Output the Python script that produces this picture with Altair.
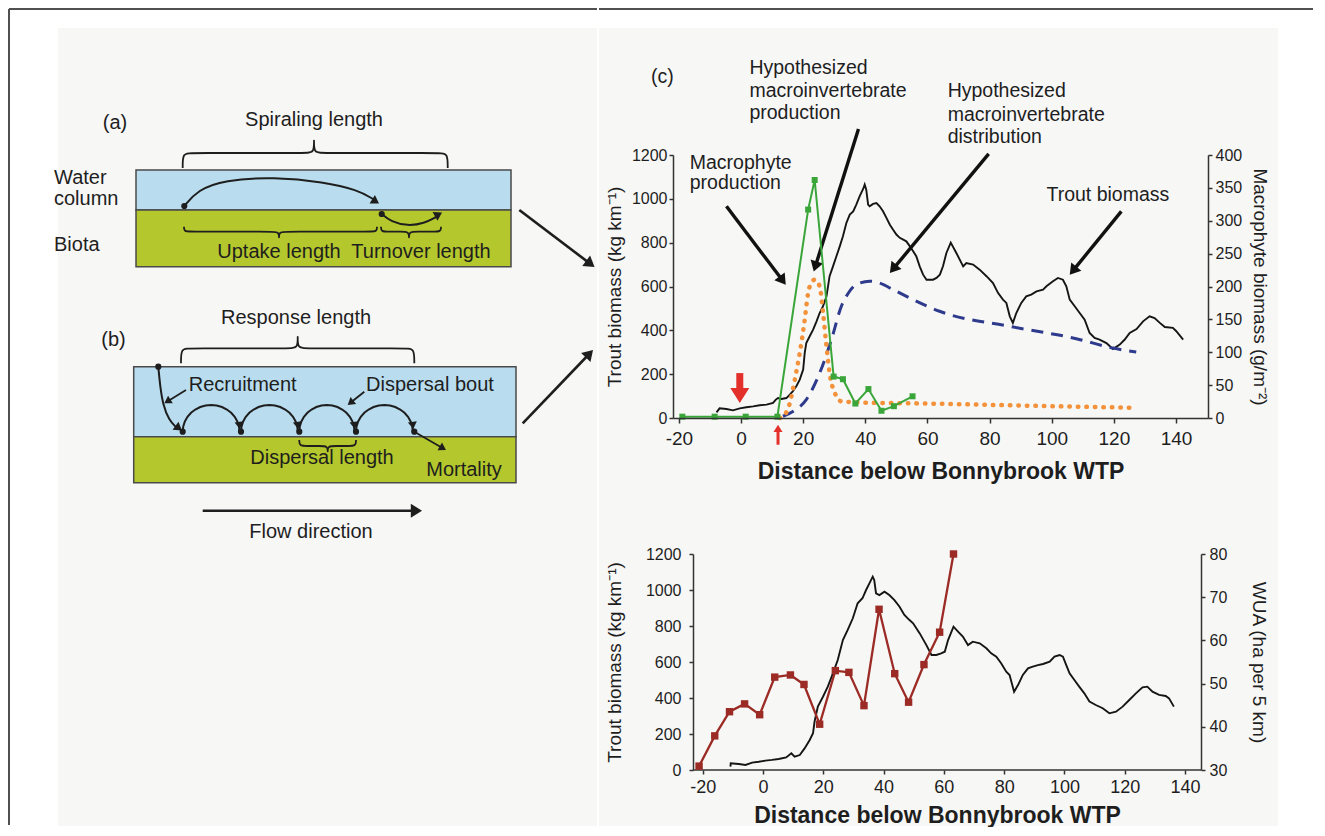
import math
import altair as alt
import pandas as pd

FONT = "Liberation Sans"
INK = "#1e1e1e"
PANEL_BG = "#f7f7f6"

# ---------------- panel (c), upper graph: values ----------------
trout_top_x = [-7.9, -6.9, -4.7, -2.6, -0.4, 1.7, 3.9, 6.0, 8.2, 10.3,
               11.2, 11.9, 13.0, 14.6, 15.7, 16.7, 17.8, 18.9, 20.0, 20.5,
               21.0, 22.1, 23.2, 24.3, 25.3, 26.4, 27.5, 28.0, 28.5, 29.6,
               30.7, 31.8, 32.8, 33.9, 35.0, 36.1, 37.1, 38.2, 39.3, 39.8,
               40.3, 40.9, 41.4, 42.5, 43.6, 44.6, 45.7, 46.8, 47.9, 48.9,
               50.0, 51.1, 53.2, 54.3, 55.4, 56.4, 57.5, 58.6, 59.7, 60.7,
               61.8, 62.9, 64.0, 65.0, 66.1, 67.5, 69.3, 71.5, 72.5, 74.7,
               76.8, 79.0, 81.1, 82.7, 84.3, 85.4, 86.5, 87.5, 88.6, 90.2,
               91.8, 93.4, 95.1, 97.2, 98.3, 100.4, 102.0, 103.6, 104.7, 105.8,
               107.4, 109.0, 110.6, 112.2, 113.8, 115.4, 117.6, 119.7, 121.9, 123.5,
               125.1, 127.3, 129.4, 131.5, 133.1, 134.8, 136.4, 139.0, 140.1, 142.3]
trout_top_y = [26, 44, 41, 35, 44, 49, 53, 58, 61, 69,
               84, 91, 87, 91, 107, 122, 145, 175, 221, 297,
               342, 373, 403, 441, 479, 510, 555, 601, 647, 692,
               738, 784, 829, 890, 928, 943, 974, 1012, 1045, 1065,
               1042, 974, 966, 977, 981, 966, 943, 913, 882, 860,
               837, 822, 806, 784, 761, 738, 692, 654, 631, 631,
               631, 639, 654, 692, 753, 800, 753, 692, 707, 700,
               677, 647, 616, 571, 540, 525, 464, 434, 479, 525,
               555, 563, 578, 586, 601, 624, 639, 631, 601, 540,
               510, 479, 449, 388, 365, 358, 342, 315, 335, 358,
               388, 406, 441, 464, 456, 434, 415, 411, 396, 358]

macro_x = [-18.9, -8.5, 1.5, 11.7, 21.6, 23.7, 29.8, 32.8, 36.8, 41.0, 45.2, 49.2, 55.2]
macro_y = [2, 2, 2, 2, 317, 362, 63, 59, 22, 44, 11, 18, 33]

inv_prod_x = [12.5, 14.1, 15.7, 17.3, 18.9, 20.5, 21.6, 22.6, 23.7, 25.3, 26.4,
              27.5, 28.5, 30.2, 32.3, 36.1, 40, 50, 60, 80, 100, 126]
inv_prod_y = [0, 15, 68, 175, 297, 449, 571, 616, 631, 601, 479,
              327, 205, 114, 76, 72, 70, 68, 66, 60, 54, 47]

inv_dist_x = [13.5, 16.7, 21.0, 25.3, 29.1, 32.3, 33.9, 37.1, 41.4, 44.6, 48.9,
              55.4, 63.9, 86.5, 107.9, 119.7, 127.2]
inv_dist_y = [8, 30, 84, 205, 358, 510, 555, 609, 624, 616, 586,
              540, 487, 418, 362, 319, 301]

# ---------------- panel (c), lower graph ----------------
trout_bot_x = [-10.8, -10.7, -8.0, -5.8, -3.6, -1.4, 0.8, 3.0, 5.2, 7.7,
               9.4, 10.5, 12.2, 13.8, 15.5, 16.6, 17.1, 18.2, 19.9, 21.5,
               23.2, 24.8, 26.5, 28.1, 29.8, 31.4, 33.0, 34.2, 35.3, 36.4,
               36.9, 37.5, 38.6, 40.3, 41.9, 43.6, 45.3, 46.9, 48.6, 49.8,
               52.0, 54.2, 55.9, 57.5, 59.1, 60.3, 61.4, 63.2, 64.7, 66.3,
               68.0, 69.6, 71.9, 74.1, 75.7, 77.4, 79.0, 80.7, 81.8, 83.3,
               84.6, 86.2, 87.9, 89.5, 91.2, 92.9, 95.1, 96.7, 98.4, 99.5,
               100.6, 101.7, 103.3, 104.9, 106.6, 108.3, 110.4, 112.7, 114.9, 117.1,
               119.3, 121.5, 123.7, 125.9, 127.5, 129.2, 131.4, 133.6, 134.7, 136.3]
trout_bot_y = [19, 37, 33, 28, 41, 46, 52, 56, 61, 70,
               93, 74, 83, 120, 167, 204, 268, 352, 407, 463,
               537, 611, 722, 778, 843, 926, 954, 1000, 1037, 1074,
               1056, 981, 972, 991, 972, 944, 907, 861, 833, 815,
               759, 694, 639, 639, 648, 657, 722, 796, 769, 741,
               694, 713, 704, 676, 648, 630, 593, 546, 528, 435,
               472, 528, 565, 574, 583, 589, 602, 630, 639, 630,
               583, 537, 500, 463, 426, 380, 361, 343, 315, 324,
               352, 389, 426, 459, 463, 435, 417, 411, 398, 352]

wua_x = [-21.2, -16.0, -11.1, -6.1, -1.1, 3.9, 9.1, 13.6, 18.8,
         24.0, 28.5, 33.5, 38.5, 43.7, 48.3, 53.4, 58.6, 63.2]
wua_y = [30.9, 37.9, 43.5, 45.3, 42.8, 51.5, 52.0, 49.8, 40.6,
         53.0, 52.6, 44.9, 67.2, 52.3, 45.7, 54.4, 61.9, 80.0]

# ---------------- annotation texts ----------------
top_note_text = ["(c)", "Hypothesized", "macroinvertebrate", "production",
                 "Hypothesized", "macroinvertebrate", "distribution",
                 "Macrophyte", "production", "Trout biomass"]
top_note_x = [-29.0, 2.7, 2.7, 2.7, 66.5, 66.5, 66.5, -16.5, -16.5, 98.3]
top_note_y = [1555, 1596, 1490, 1393, 1490, 1381, 1283, 1164, 1073, 1019]

# ---------------- layout constants ----------------
W_LEFT, H_LEFT = 588, 670
X0, Y0 = 8, 155          # page position of the left panel origin (aligned with graph origin)
TOP_W, TOP_H = 535, 263
BOT_W, BOT_H = 528, 216
TOP_XDOM = [-21.9, 150.3]
BOT_XDOM = [-29.85, 145.3]
BOT_AXIS_START = -23.2
FRAME_TOP = 8 - Y0 + 1   # frame line at page y ~ 8, relative to the graph origin
TOP_ORIGIN = (670, 155)
BOT_ORIGIN_Y = 554
BG_TOP, BG_RIGHT, BG_BOTTOM, BG_LEFT = 28, 1275, 826, 57
BG_SPLIT = 545           # page y where the upper graph's background ends
COL_EDGE = -74           # left edge of the graph column, relative to the graph origin


def arrow_rows(specs, sx, sy):
    """specs: (x0, y0, x1, y1, width, r, color). Returns rule rows and head rows."""
    rules, heads = [], []
    for (x0, y0, x1, y1, w, r, col) in specs:
        dxp = (x1 - x0) * sx
        dyp = -(y1 - y0) * sy
        d = math.hypot(dxp, dyp)
        ux, uy = dxp / d, dyp / d
        ang = (math.degrees(math.atan2(ux, -uy)) + 360.0) % 360.0
        back = 0.8 * r
        cx = x1 - ux * back / sx
        cy = y1 + uy * back / sy
        rules.append({"x": x0, "y": y0, "x2": cx, "y2": cy, "w": w, "col": col})
        heads.append({"x": cx, "y": cy, "ang": ang, "sz": (2 * r) ** 2, "col": col})
    return pd.DataFrame(rules), pd.DataFrame(heads)


HEAD = "M0,-0.8L1,0.8L-1,0.8Z"


def arrow_layers(specs, sx, sy, xenc, yenc):
    rdf, hdf = arrow_rows(specs, sx, sy)
    rl = alt.Chart(rdf).mark_rule(strokeCap="butt").encode(
        x=xenc, y=yenc, x2=alt.X2("x2:Q"), y2=alt.Y2("y2:Q"),
        strokeWidth=alt.StrokeWidth("w:Q", scale=None),
        color=alt.Color("col:N", scale=None))
    hl = alt.Chart(hdf).mark_point(shape=HEAD, filled=True, opacity=1, strokeWidth=0).encode(
        x=xenc, y=yenc,
        angle=alt.Angle("ang:Q", scale=None),
        size=alt.Size("sz:Q", scale=None),
        color=alt.Color("col:N", scale=None))
    return [rl, hl]


one = pd.DataFrame({"a": [0]})


def bg_rect(x, x2, y, y2):
    return alt.Chart(one).mark_rect(color=PANEL_BG, opacity=1).encode(
        x=alt.value(x), x2=alt.value(x2), y=alt.value(y), y2=alt.value(y2))


# ======================= left panel: diagrams (a) and (b) =======================
lx = alt.X("x:Q", scale=alt.Scale(domain=[X0, X0 + W_LEFT], nice=False, zero=False), axis=None)
ly = alt.Y("y:Q", scale=alt.Scale(domain=[Y0, Y0 + H_LEFT], nice=False, zero=False, reverse=True), axis=None)

left_bg = bg_rect(BG_LEFT - X0, W_LEFT, BG_TOP - Y0, BG_BOTTOM - Y0)

WATER, BIOTA = "#b9ddef", "#b4c72c"
rect_df = pd.DataFrame({
    "x": [135, 135, 132.7, 132.7], "x2": [510, 510, 515, 515],
    "y": [170, 210, 366.7, 436.7], "y2": [210, 266.7, 436.7, 482.7],
    "fill": [WATER, BIOTA, WATER, BIOTA]})
rects = alt.Chart(rect_df).mark_rect(stroke="#4a4a4a", strokeWidth=1.5).encode(
    x=lx, x2=alt.X2("x2:Q"), y=ly, y2=alt.Y2("y2:Q"), color=alt.Color("fill:N", scale=None))


def brace(x0, x1, y_end, y_h, y_tip, xm):
    c = min(8.0, (xm - x0) / 3.0, (x1 - xm) / 3.0)
    return [(x0, y_end), (x0, y_h), (x0 + c, y_h), (xm - c, y_h), (xm, y_h), (xm, y_tip),
            (xm, y_tip), (xm, y_h), (xm + c, y_h), (x1 - c, y_h), (x1, y_h), (x1, y_end)]


braces = [brace(181.7, 446.7, 168, 153, 140, 313),
          brace(183, 376, 226.7, 231.7, 237.5, 278),
          brace(380, 440, 226.7, 231.7, 237.5, 408),
          brace(180, 413.3, 363.3, 348.3, 336.5, 296.7),
          brace(298.3, 355, 440, 446, 451.5, 326.7)]
brace_rows = []
for g, pts in enumerate(braces):
    for i, (px, py) in enumerate(pts):
        brace_rows.append({"x": px, "y": py, "g": g, "i": i})
brace_layer = alt.Chart(pd.DataFrame(brace_rows)).mark_line(
    interpolate="basis", color=INK, strokeWidth=1.8).encode(x=lx, y=ly, detail="g:N", order="i:Q")

curves = [[(183.3, 206), (196.7, 190), (223, 180), (273, 177), (323, 182), (356.7, 190), (372, 199)],
          [(380.7, 214), (390, 221.7), (406.7, 226), (423.3, 223.3), (435, 217)],
          [(157.3, 366.7), (159, 385), (162, 405), (168, 420), (175, 427)]]
curve_rows = []
for g, pts in enumerate(curves):
    for i, (px, py) in enumerate(pts):
        curve_rows.append({"x": px, "y": py, "g": g, "i": i})
curve_layer = alt.Chart(pd.DataFrame(curve_rows)).mark_line(
    interpolate="basis", color=INK, strokeWidth=2).encode(x=lx, y=ly, detail="g:N", order="i:Q")

hop_x = [181.7, 240.0, 298.3, 355.0, 413.3]
HOP_Y, HOP_TOP = 431.7, 405.0
hop_rows = []
for k in range(4):
    xa, xb = hop_x[k], hop_x[k + 1] - 1.5
    for t in range(17):
        th = math.pi * t / 16
        hop_rows.append({"x": xa + (xb - xa) * (1 - math.cos(th)) / 2,
                         "y": HOP_Y - (HOP_Y - HOP_TOP) * math.sin(th),
                         "g": k, "i": t})
hop_layer = alt.Chart(pd.DataFrame(hop_rows)).mark_line(color=INK, strokeWidth=2).encode(
    x=lx, y=ly, detail="g:N", order="i:Q")

left_arrows = [
    (356.7, 190, 378, 203.5, 0.01, 5, INK),
    (423.3, 222.5, 441, 212.5, 0.01, 5, INK),
    (168, 421, 181, 430.5, 0.01, 5, INK),
    (185, 390, 163.3, 403.3, 1.8, 4.5, INK),
    (363.3, 391.7, 346.7, 405, 1.8, 4.5, INK),
    (413.3, 431.7, 445, 450, 1.8, 4.5, INK),
    (201.7, 510.7, 421, 510.7, 2.6, 7, INK),
    (518.3, 210, 593.5, 267, 2.6, 6.5, INK),
    (521.7, 423.3, 592, 350, 2.6, 6.5, INK),
] + [(hop_x[k + 1] - 2.5, 418, hop_x[k + 1] - 1, 429, 0.01, 4.5, INK) for k in range(4)]
left_arrow_layers = arrow_layers(left_arrows, 1.0, -1.0, lx, ly)

dot_df = pd.DataFrame({"x": [183.3, 380.7, 157.3] + hop_x,
                       "y": [206, 214, 366.7] + [HOP_Y] * 5})
dots = alt.Chart(dot_df).mark_circle(size=38, color=INK, opacity=1).encode(x=lx, y=ly)

center_text = pd.DataFrame({
    "t": ["(a)", "Spiraling length", "Uptake length", "Turnover length", "(b)",
          "Response length", "Recruitment", "Dispersal bout", "Dispersal length",
          "Mortality", "Flow direction"],
    "x": [114, 313, 278, 420, 112.5, 295, 241.7, 429, 321, 463, 310],
    "y": [123, 120, 252, 252, 340, 318.3, 385, 385, 458.3, 470, 531.7]})
ctext = alt.Chart(center_text).mark_text(align="center", baseline="middle", fontSize=20,
                                          color=INK, font=FONT).encode(x=lx, y=ly, text="t:N")
left_text = pd.DataFrame({"t": ["Water", "column", "Biota"],
                          "x": [53, 53, 53], "y": [178.3, 199.3, 245]})
ltext = alt.Chart(left_text).mark_text(align="left", baseline="middle", fontSize=20,
                                        color=INK, font=FONT).encode(x=lx, y=ly, text="t:N")

frame_left = alt.Chart(one).mark_rule(color="#505050", strokeWidth=2).encode(
    x=alt.value(0), y=alt.value(FRAME_TOP), y2=alt.value(H_LEFT))
frame_top_l = alt.Chart(one).mark_rule(color="#505050", strokeWidth=2).encode(
    x=alt.value(0), x2=alt.value(W_LEFT), y=alt.value(FRAME_TOP))

left_panel = alt.layer(left_bg, rects, brace_layer, curve_layer, hop_layer, *left_arrow_layers, dots,
                       ctext, ltext, frame_left, frame_top_l).properties(width=W_LEFT, height=H_LEFT)

# ======================= upper graph =======================
LBL = "datum.value"
tx = alt.X("x:Q", scale=alt.Scale(domain=TOP_XDOM, nice=False, zero=False),
           axis=alt.Axis(values=list(range(-20, 141, 20)), title="Distance below Bonnybrook WTP",
                         labelExpr=LBL, labelFontSize=19, tickSize=5, labelPadding=6, titleFontSize=23,
                         titleFontWeight="bold", titlePadding=12, zindex=1))
tyl = alt.Y("y:Q", scale=alt.Scale(domain=[0, 1200], nice=False),
            axis=alt.Axis(values=list(range(0, 1201, 200)), orient="left", labelExpr=LBL,
                          title="Trout biomass (kg km⁻¹)", labelFontSize=16, tickSize=4,
                          labelPadding=2, titleFontSize=19, titleFontWeight="normal", titlePadding=7,
                          zindex=1))
tyr = alt.Y("y:Q", scale=alt.Scale(domain=[0, 400], nice=False),
            axis=alt.Axis(values=list(range(0, 401, 50)), orient="right", labelExpr=LBL,
                          title="Macrophyte biomass (g/m⁻²)", labelFontSize=16, tickSize=4,
                          labelPadding=3, titleFontSize=19, titleFontWeight="normal", titlePadding=8,
                          zindex=1))

sx_t = TOP_W / (TOP_XDOM[1] - TOP_XDOM[0])
sy_t = TOP_H / 1200.0

top_bg = bg_rect(COL_EDGE, BG_RIGHT - TOP_ORIGIN[0], BG_TOP - TOP_ORIGIN[1], BG_SPLIT - TOP_ORIGIN[1])

trout_top = alt.Chart(pd.DataFrame({"x": trout_top_x, "y": trout_top_y})).mark_line(
    color="#151515", strokeWidth=1.9).encode(x=tx, y=tyl)
inv_dist = alt.Chart(pd.DataFrame({"x": inv_dist_x, "y": inv_dist_y})).mark_line(
    color="#2e3a8c", strokeWidth=3, strokeDash=[12, 8], interpolate="monotone").encode(x=tx, y=tyl)
inv_prod = alt.Chart(pd.DataFrame({"x": inv_prod_x, "y": inv_prod_y})).mark_line(
    color="#f3923b", strokeWidth=4.5, strokeDash=[0.5, 8], strokeCap="round",
    interpolate="monotone").encode(x=tx, y=tyl)

notes = alt.Chart(pd.DataFrame({"t": top_note_text, "x": top_note_x, "y": top_note_y})).mark_text(
    align="left", baseline="middle", fontSize=19.5, color=INK, font=FONT).encode(x=tx, y=tyl, text="t:N")

top_arrows = [(-4.7, 966, 14.4, 608, 3.4, 6.5, "#111111"),
              (37.8, 1319, 23.4, 669, 3.4, 6.5, "#111111"),
              (79.7, 1205, 47.9, 662, 3.4, 6.5, "#111111"),
              (122.4, 943, 105.8, 654, 3.4, 6.5, "#111111"),
              (-0.4, 205, -0.4, 68, 7, 9.5, "#e3302a"),
              (11.9, -122, 11.9, -31, 3, 4.5, "#e3302a")]
top_arrow_layers = arrow_layers(top_arrows, sx_t, sy_t, tx, tyl)

frame_top_r = alt.Chart(one).mark_rule(color="#505050", strokeWidth=2).encode(
    x=alt.value(COL_EDGE), x2=alt.value(640), y=alt.value(FRAME_TOP))

left_group = alt.layer(top_bg, trout_top, inv_dist, inv_prod, notes, *top_arrow_layers, frame_top_r)

macro_df = pd.DataFrame({"x": macro_x, "y": macro_y})
green_group = alt.layer(
    alt.Chart(macro_df).mark_line(color="#3aa63a", strokeWidth=2).encode(x=tx, y=tyr),
    alt.Chart(macro_df).mark_square(color="#3aa63a", size=36, opacity=1).encode(x=tx, y=tyr))

top_chart = alt.layer(left_group, green_group).resolve_scale(y="independent").properties(
    width=TOP_W, height=TOP_H)

# ======================= lower graph =======================
bx = alt.X("x:Q", scale=alt.Scale(domain=BOT_XDOM, nice=False, zero=False),
           axis=alt.Axis(values=list(range(-20, 141, 20)), title="Distance below Bonnybrook WTP",
                         labelExpr=LBL, domain=False, labelFontSize=18, tickSize=4, labelPadding=4,
                         titleFontSize=23, titleFontWeight="bold", titlePadding=8, zindex=1))
byl = alt.Y("y:Q", scale=alt.Scale(domain=[0, 1200], nice=False),
            axis=alt.Axis(values=list(range(0, 1201, 200)), orient="left", labelExpr=LBL, offset=-20,
                          title="Trout biomass (kg km⁻¹)", labelFontSize=16, tickSize=4,
                          labelPadding=8, titleFontSize=19, titleFontWeight="normal", titlePadding=21,
                          zindex=1))
byr = alt.Y("y:Q", scale=alt.Scale(domain=[30, 80], nice=False, zero=False),
            axis=alt.Axis(values=list(range(30, 81, 10)), orient="right", labelExpr=LBL,
                          title="WUA (ha per 5 km)", labelFontSize=16, tickSize=4,
                          labelPadding=4, titleFontSize=19, titleFontWeight="normal", titlePadding=22,
                          zindex=1))

bot_bg = bg_rect(COL_EDGE, BG_RIGHT - TOP_ORIGIN[0], BG_SPLIT - BOT_ORIGIN_Y, BG_BOTTOM - BOT_ORIGIN_Y)
bot_axis_line = alt.Chart(pd.DataFrame({"x": [BOT_AXIS_START], "x2": [BOT_XDOM[1]], "y": [0]})).mark_rule(
    color="#333333", strokeWidth=1.5).encode(x=bx, x2=alt.X2("x2:Q"), y=byl)
trout_bot = alt.Chart(pd.DataFrame({"x": trout_bot_x, "y": trout_bot_y})).mark_line(
    color="#151515", strokeWidth=1.9).encode(x=bx, y=byl)
wua_df = pd.DataFrame({"x": wua_x, "y": wua_y})
wua_group = alt.layer(
    alt.Chart(wua_df).mark_line(color="#9b2b24", strokeWidth=2.3).encode(x=bx, y=byr),
    alt.Chart(wua_df).mark_square(color="#9b2b24", size=55, opacity=1).encode(x=bx, y=byr))

bottom_chart = alt.layer(alt.layer(bot_bg, bot_axis_line, trout_bot), wua_group).resolve_scale(
    y="independent").properties(width=BOT_W, height=BOT_H)

right_col = alt.vconcat(top_chart, bottom_chart, spacing=0)

chart = alt.hconcat(left_panel, right_col, spacing=0).properties(
    padding=0, background="white"
).configure(font=FONT).configure_view(stroke=None).configure_axis(
    labelFont=FONT, titleFont=FONT, labelColor=INK, titleColor=INK,
    domainColor="#333333", tickColor="#333333", domainWidth=1.5, tickWidth=1.5, grid=False)

chart.save("out.html", embed_options={"renderer": "svg", "actions": False})
